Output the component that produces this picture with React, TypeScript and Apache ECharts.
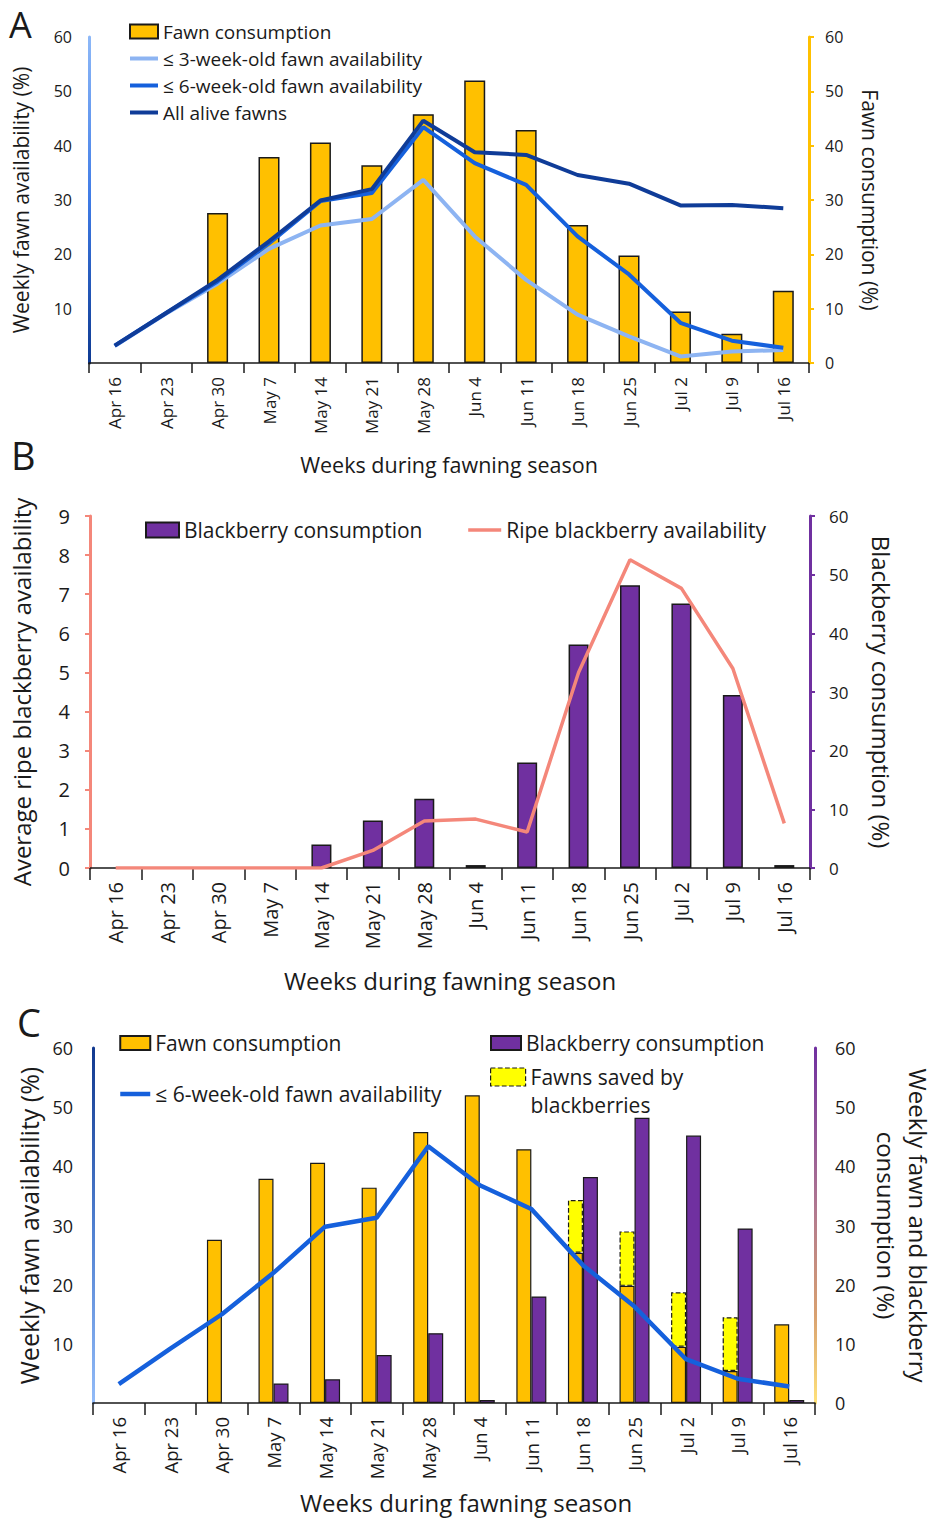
import React, { useEffect, useRef } from "react";
import * as echarts from "echarts";

const weeks = ["Apr 16", "Apr 23", "Apr 30", "May 7", "May 14", "May 21", "May 28", "Jun 4", "Jun 11", "Jun 18", "Jun 25", "Jul 2", "Jul 9", "Jul 16"];

// Panel A
const fawnConsumption = [null, null, 27.6, 37.9, 40.6, 36.4, 45.8, 52.0, 42.9, 25.4, 19.8, 9.5, 5.4, 13.3];
const fawnAvail3wk = [3.1, 9.1, 14.6, 21.0, 25.3, 26.5, 33.7, 23.3, 15.3, 8.9, 4.9, 1.2, 2.1, 2.4];
const fawnAvail6wk = [3.2, 9.2, 15.0, 22.0, 29.8, 31.3, 43.4, 36.8, 32.8, 23.3, 16.3, 7.4, 4.1, 2.8];
const allAliveFawns = [3.2, 9.2, 15.3, 22.4, 29.9, 32.0, 44.6, 38.8, 38.3, 34.6, 33.0, 29.0, 29.1, 28.5];

// Panel B
const blackberryConsumptionB = [null, null, null, null, 4.0, 8.1, 11.8, 0.5, 18.0, 38.1, 48.2, 45.1, 29.5, 0.5];
const ripeBlackberry = [0, 0, 0, 0, 0, 0.45, 1.2, 1.25, 0.92, 5.0, 7.88, 7.15, 5.1, 1.14];

// Panel C
const blackberryConsumptionC = [null, null, null, 3.3, 4.0, 8.1, 11.8, 0.5, 18.0, 38.2, 48.2, 45.2, 29.5, 0.5];
const fawnsSaved = [null, null, null, null, null, null, null, null, null, 8.9, 9.2, 9.2, 9.1, null];

const pctTicks = { min: 0, max: 60, interval: 10 };
const berryTicks = { min: 0, max: 9, interval: 1 };

const FONT = '"Open Sans", sans-serif';
const TXT = "#1a1a1a";
const ORANGE = "#FFC000";
const PURPLE = "#7030A0";
const PINK = "#F4877A";
const LIGHTBLUE = "#8DB4F2";
const MIDBLUE = "#1560DC";
const DARKBLUE = "#0F3C98";
const BORDER = "#1a1a1a";
const SAVED = "Fawns saved by\nblackberries";

const G = {
  A: { left: 89, right: 809, top: 37, bottom: 363 },
  B: { left: 90, right: 810, top: 516, bottom: 868 },
  C: { left: 93, right: 815, top: 1048, bottom: 1403 },
};

function grid(g: any) {
  return {
    left: g.left, top: g.top, width: g.right - g.left, height: g.bottom - g.top,
    containLabel: false, outerBoundsMode: "none",
  };
}

function xAx(gi: number, fontSize: number, tickLen: number, nameGap: number, nameSize: number, namePad: number[]) {
  return {
    type: "category",
    gridIndex: gi,
    data: weeks,
    boundaryGap: true,
    axisLine: { lineStyle: { color: BORDER, width: 1.5 } },
    axisTick: { show: true, length: tickLen, lineStyle: { color: BORDER, width: 1.5 } },
    axisLabel: { rotate: 90, fontSize, color: TXT, fontFamily: FONT, margin: 14, interval: 0 },
    name: "Weeks during fawning season",
    nameLocation: "middle",
    nameGap,
    nameTextStyle: { fontSize: nameSize, color: TXT, fontFamily: FONT, padding: namePad },
  };
}

function yAx(opts: any) {
  return {
    type: "value",
    splitLine: { show: false },
    nameLocation: "middle",
    ...opts,
  };
}

function vgrad(y0: number, y1: number, stops: [number, string][]) {
  return new echarts.graphic.LinearGradient(0, y0, 0, y1, stops.map(([offset, color]) => ({ offset, color })), true);
}

const hiddenSymbol = { opacity: 0 };

export default function App() {
  const ref = useRef<HTMLDivElement>(null);
  useEffect(() => {
    if (!ref.current) return;
    const chart = echarts.init(ref.current, null, { renderer: "svg" });
    const hideZero = (v: number) => (v === 0 ? "" : String(v));

    const option: any = {
      animation: false,
      backgroundColor: "#ffffff",
      textStyle: { fontFamily: FONT, color: TXT },
      grid: [grid(G.A), grid(G.B), grid(G.C)],
      xAxis: [
        xAx(0, 17, 10, 90, 21.5, [0, 0, 0, 0]),
        xAx(1, 20, 12, 100, 24, [0, 0, 0, 0]),
        xAx(2, 18.5, 12, 87, 24, [0, 0, 0, 24]),
      ],
      yAxis: [
        // A left
        yAx({
          gridIndex: 0, position: "left", ...pctTicks,
          axisLine: { show: true, lineStyle: { width: 3, color: vgrad(G.A.top, G.A.bottom, [[0, "#8DB8F8"], [0.5, "#3F7BE6"], [1, "#0E3A92"]]) } },
          axisTick: { show: false },
          axisLabel: { fontSize: 16, color: TXT, fontFamily: FONT, margin: 17, formatter: hideZero },
          name: "Weekly fawn availability (%)", nameRotate: 90, nameGap: 58,
          nameTextStyle: { fontSize: 21, color: TXT, fontFamily: FONT },
        }),
        // A right
        yAx({
          gridIndex: 0, position: "right", ...pctTicks,
          axisLine: { show: true, lineStyle: { width: 3, color: ORANGE } },
          axisTick: { show: true, length: 5, lineStyle: { width: 2, color: ORANGE } },
          axisLabel: { fontSize: 16, color: TXT, fontFamily: FONT, margin: 16 },
          name: "Fawn consumption (%)", nameRotate: -90, nameGap: 50,
          nameTextStyle: { fontSize: 21, color: TXT, fontFamily: FONT },
        }),
        // B left
        yAx({
          gridIndex: 1, position: "left", ...berryTicks,
          axisLine: { show: true, lineStyle: { width: 3, color: PINK } },
          axisTick: { show: true, length: 5, lineStyle: { width: 2, color: PINK } },
          axisLabel: { fontSize: 20, color: TXT, fontFamily: FONT, margin: 20 },
          name: "Average ripe blackberry availability", nameRotate: 90, nameGap: 57,
          nameTextStyle: { fontSize: 24, color: TXT, fontFamily: FONT },
        }),
        // B right
        yAx({
          gridIndex: 1, position: "right", ...pctTicks,
          axisLine: { show: true, lineStyle: { width: 3, color: PURPLE } },
          axisTick: { show: true, length: 5, lineStyle: { width: 2, color: PURPLE } },
          axisLabel: { fontSize: 17, color: TXT, fontFamily: FONT, margin: 19 },
          name: "Blackberry consumption (%)", nameRotate: -90, nameGap: 59,
          nameTextStyle: { fontSize: 24, color: TXT, fontFamily: FONT },
        }),
        // C left
        yAx({
          gridIndex: 2, position: "left", ...pctTicks,
          axisLine: { show: true, lineStyle: { width: 3, color: vgrad(G.C.top, G.C.bottom, [[0, "#12398F"], [0.5, "#4F7FD0"], [1, "#92BBF8"]]) } },
          axisTick: { show: false },
          axisLabel: { fontSize: 18, color: TXT, fontFamily: FONT, margin: 20, formatter: hideZero },
          name: "Weekly fawn availability (%)", nameRotate: 90, nameGap: 46,
          nameTextStyle: { fontSize: 25, color: TXT, fontFamily: FONT },
        }),
        // C right
        yAx({
          gridIndex: 2, position: "right", ...pctTicks,
          axisLine: { show: true, lineStyle: { width: 3, color: vgrad(G.C.top, G.C.bottom, [[0, "#7030A0"], [0.45, "#B07890"], [0.75, "#D8A070"], [1, "#FFE27A"]]) } },
          axisTick: { show: false },
          axisLabel: { fontSize: 18, color: TXT, fontFamily: FONT, margin: 20 },
          name: "Weekly fawn and blackberry\nconsumption (%)", nameRotate: -90, nameGap: 55, nameMoveOverlap: false,
          nameTextStyle: { fontSize: 24, lineHeight: 32, color: TXT, fontFamily: FONT },
        }),
      ],
      legend: [
        {
          orient: "vertical", left: 128, top: 21, padding: 0, itemWidth: 28, itemHeight: 14, itemGap: 6,
          textStyle: { fontSize: 19, lineHeight: 21, color: TXT, fontFamily: FONT },
          lineStyle: { width: 4 },
          data: [
            { name: "Fawn consumption", icon: "rect" },
            { name: "≤ 3-week-old fawn availability", itemStyle: hiddenSymbol },
            { name: "≤ 6-week-old fawn availability", itemStyle: hiddenSymbol },
            { name: "All alive fawns", itemStyle: hiddenSymbol },
          ],
        },
        {
          orient: "horizontal", left: 145, top: 518, padding: 0, itemWidth: 33, itemHeight: 15, itemGap: 44,
          textStyle: { fontSize: 21, lineHeight: 24, color: TXT, fontFamily: FONT },
          lineStyle: { width: 3.5 },
          data: [
            { name: "Blackberry consumption", icon: "rect" },
            { name: "Ripe blackberry availability", itemStyle: hiddenSymbol },
          ],
        },
        {
          orient: "vertical", left: 118, top: 1031, padding: 0, itemWidth: 30, itemHeight: 14, itemGap: 27,
          textStyle: { fontSize: 21, lineHeight: 24, color: TXT, fontFamily: FONT },
          lineStyle: { width: 4.5 },
          data: [
            { name: "Fawn consumption ", icon: "rect" },
            { name: "≤ 6-week-old fawn availability ", itemStyle: hiddenSymbol },
          ],
        },
        {
          orient: "vertical", left: 490, top: 1031, padding: 0, itemWidth: 30, itemHeight: 14, itemGap: 0,
          textStyle: { fontSize: 21, lineHeight: 24, color: TXT, fontFamily: FONT },
          data: [{ name: "Blackberry consumption ", icon: "rect" }],
        },
        {
          orient: "vertical", left: 490, top: 1035, padding: 0, itemWidth: 35, itemHeight: 18, itemGap: 0,
          textStyle: { fontSize: 21, lineHeight: 28, color: TXT, fontFamily: FONT },
          formatter: (n: string) => (n === SAVED ? " \n" + n : n),
          data: [{ name: SAVED, icon: "rect", itemStyle: { borderType: "dashed", borderColor: BORDER, borderWidth: 1.2 } }],
        },
      ],
      graphic: [
        { type: "text", left: 9, top: 6, style: { text: "A", fontSize: 36, fontFamily: FONT, fill: TXT } },
        { type: "text", left: 11, top: 436, style: { text: "B", fontSize: 38, fontFamily: FONT, fill: TXT } },
        { type: "text", left: 17, top: 1003, style: { text: "C", fontSize: 38, fontFamily: FONT, fill: TXT } },
      ],
      series: [
        // Panel A
        {
          name: "Fawn consumption", type: "bar", xAxisIndex: 0, yAxisIndex: 1, data: fawnConsumption, barWidth: 21,
          itemStyle: { color: ORANGE, borderColor: BORDER, borderWidth: 1.5 },
        },
        {
          name: "≤ 3-week-old fawn availability", type: "line", xAxisIndex: 0, yAxisIndex: 0, data: fawnAvail3wk,
          symbol: "none", lineStyle: { color: LIGHTBLUE, width: 4 }, itemStyle: { color: LIGHTBLUE },
        },
        {
          name: "≤ 6-week-old fawn availability", type: "line", xAxisIndex: 0, yAxisIndex: 0, data: fawnAvail6wk,
          symbol: "none", lineStyle: { color: MIDBLUE, width: 4 }, itemStyle: { color: MIDBLUE },
        },
        {
          name: "All alive fawns", type: "line", xAxisIndex: 0, yAxisIndex: 0, data: allAliveFawns,
          symbol: "none", lineStyle: { color: DARKBLUE, width: 4 }, itemStyle: { color: DARKBLUE },
        },
        // Panel B
        {
          name: "Blackberry consumption", type: "bar", xAxisIndex: 1, yAxisIndex: 3, data: blackberryConsumptionB, barWidth: 20,
          itemStyle: { color: PURPLE, borderColor: BORDER, borderWidth: 1.5 },
        },
        {
          name: "Ripe blackberry availability", type: "line", xAxisIndex: 1, yAxisIndex: 2, data: ripeBlackberry,
          symbol: "none", lineStyle: { color: PINK, width: 3.5 }, itemStyle: { color: PINK },
        },
        // Panel C
        {
          name: "Fawn consumption ", type: "bar", xAxisIndex: 2, yAxisIndex: 5, data: fawnConsumption, barWidth: 15, barGap: "0%",
          stack: "fawn", itemStyle: { color: ORANGE, borderColor: BORDER, borderWidth: 1.2 },
        },
        {
          name: SAVED, type: "bar", xAxisIndex: 2, yAxisIndex: 5, data: fawnsSaved, barWidth: 15, barGap: "0%",
          stack: "fawn", itemStyle: { color: "#FFFF00", borderColor: BORDER, borderWidth: 1.2, borderType: "dashed" },
        },
        {
          name: "Blackberry consumption ", type: "bar", xAxisIndex: 2, yAxisIndex: 5, data: blackberryConsumptionC, barWidth: 15, barGap: "0%",
          itemStyle: { color: PURPLE, borderColor: BORDER, borderWidth: 1.2 },
        },
        {
          name: "≤ 6-week-old fawn availability ", type: "line", xAxisIndex: 2, yAxisIndex: 4, data: fawnAvail6wk,
          symbol: "none", lineStyle: { color: MIDBLUE, width: 4.5 }, itemStyle: { color: MIDBLUE }, z: 5,
        },
      ],
    };
    chart.setOption(option);
    return () => chart.dispose();
  }, []);
  return <div ref={ref} style={{ position: "absolute", left: 0, top: 0, width: 934, height: 1518 }} />;
}
